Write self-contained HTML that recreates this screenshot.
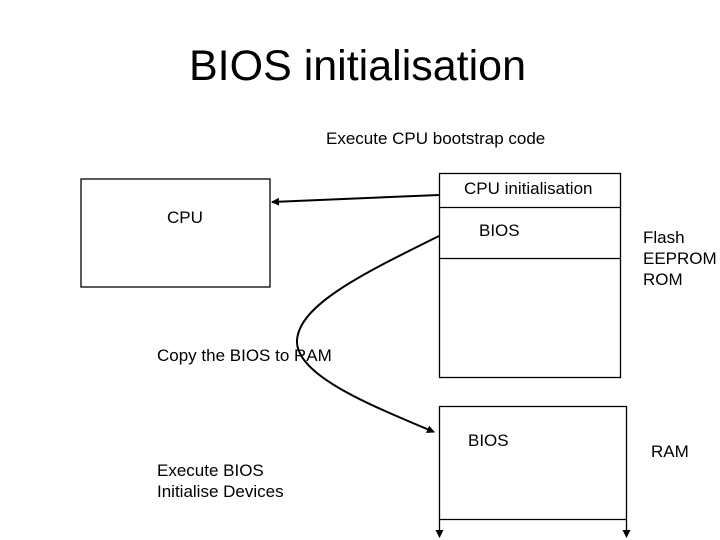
<!DOCTYPE html>
<html><head><style>
body{margin:0;width:720px;height:540px;background:#fff;position:relative;overflow:hidden;font-family:"Liberation Sans",sans-serif;}
.t{position:absolute;white-space:nowrap;color:#000;}
</style></head><body>
<div class="t" style="left:189px;top:42px;font-size:43px;">BIOS initialisation</div>
<div class="t" style="left:326px;top:129px;font-size:17px;">Execute CPU bootstrap code</div>
<div class="t" style="left:464px;top:179px;font-size:17px;">CPU initialisation</div>
<div class="t" style="left:167px;top:208px;font-size:17px;">CPU</div>
<div class="t" style="left:479px;top:221px;font-size:17px;">BIOS</div>
<div class="t" style="left:643px;top:227px;font-size:17px;line-height:21px;">Flash<br>EEPROM<br>ROM</div>
<div class="t" style="left:157px;top:346px;font-size:17px;">Copy the BIOS to RAM</div>
<div class="t" style="left:468px;top:431px;font-size:17px;">BIOS</div>
<div class="t" style="left:651px;top:442px;font-size:17px;">RAM</div>
<div class="t" style="left:157px;top:460px;font-size:17px;line-height:21px;">Execute BIOS<br>Initialise Devices</div>
<svg width="720" height="540" style="position:absolute;left:0;top:0">
<defs><marker id="a" markerWidth="8" markerHeight="8" refX="7" refY="4" orient="auto" markerUnits="userSpaceOnUse"><path d="M0,0 L8,4 L0,8 z" fill="#000"/></marker></defs>
<g fill="none" stroke="#000" stroke-width="1.3">
<rect x="81" y="179" width="189" height="108"/>
<rect x="439.5" y="173.5" width="181" height="204"/>
<line x1="439" y1="207.5" x2="620" y2="207.5"/>
<line x1="439" y1="258.5" x2="620" y2="258.5"/>
<line x1="439.5" y1="406" x2="439.5" y2="537" marker-end="url(#a)"/>
<line x1="626.5" y1="406" x2="626.5" y2="537" marker-end="url(#a)"/>
<line x1="439" y1="406.5" x2="627" y2="406.5"/>
<line x1="439" y1="519.5" x2="627" y2="519.5"/>
<line x1="439" y1="195" x2="272" y2="202" stroke-width="2" marker-end="url(#a)"/>
<path d="M439,236 C360,275 300,305 297,340 C295,375 370,405 434,432" stroke-width="2" marker-end="url(#a)"/>
</g></svg>
</body></html>
